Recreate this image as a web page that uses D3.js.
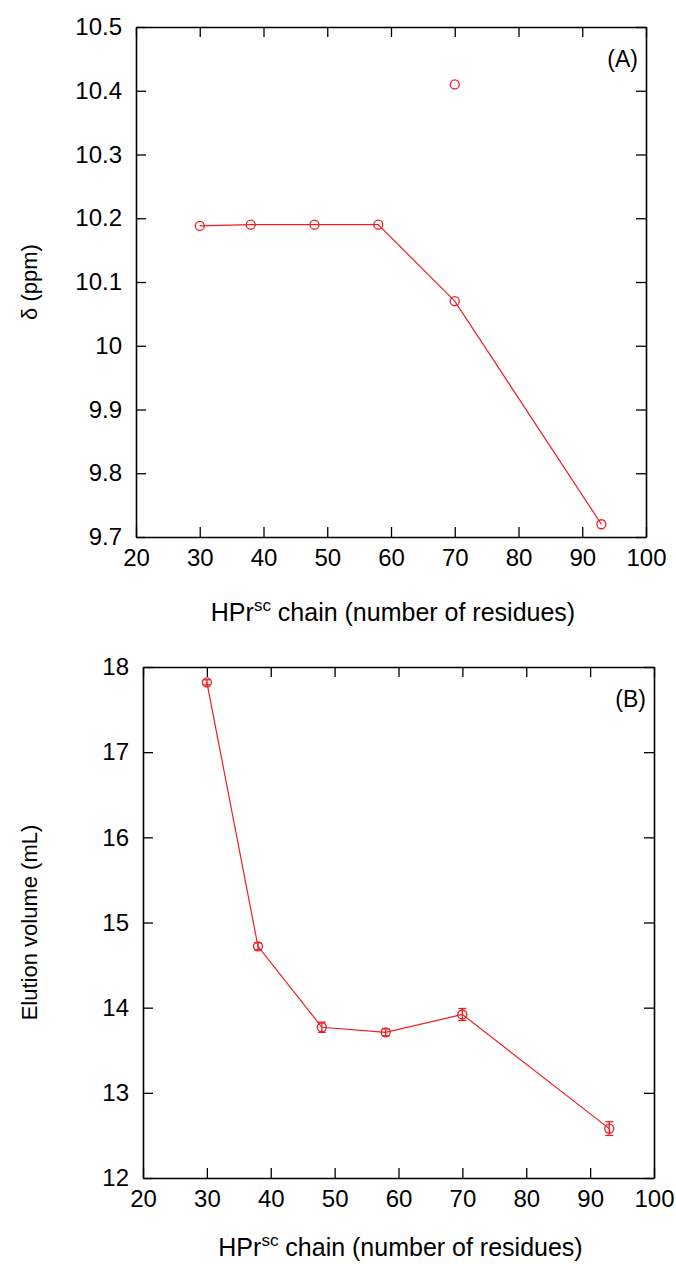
<!DOCTYPE html>
<html>
<head>
<meta charset="utf-8">
<script src="https://cdn.jsdelivr.net/npm/d3@7"></script>
<style>
  body { margin: 0; background: #fff; }
  svg text { font-family: "Liberation Sans", Arial, sans-serif; fill: #000; }
</style>
</head>
<body>
<svg id="chart" width="676" height="1264"></svg>
<script>
// panel A: chemical shift vs chain length
var residuesA = [30, 38, 48, 58, 70, 93];
var shiftA = [10.188, 10.19, 10.19, 10.19, 10.07, 9.72];
var outlierResidues = [70];
var outlierShift = [10.41];
var yTicksA = [9.7, 9.8, 9.9, 10, 10.1, 10.2, 10.3, 10.4, 10.5];
var yTickLabelsA = ["9.7", "9.8", "9.9", "10", "10.1", "10.2", "10.3", "10.4", "10.5"];

// panel B: elution volume vs chain length
var residuesB = [30, 38, 48, 58, 70, 93];
var elutionB = [17.82, 14.72, 13.77, 13.71, 13.92, 12.58];
var elutionErr = [0.03, 0.04, 0.06, 0.04, 0.07, 0.08];
var yTicksB = [12, 13, 14, 15, 16, 17, 18];

var xTicks = [20, 30, 40, 50, 60, 70, 80, 90, 100];
var red = "#f01c24";

var svg = d3.select("#chart");

function makePanel(opt) {
  var xScale = d3.scaleLinear().domain([20, 100]).range([opt.left, opt.right]);
  var yScale = d3.scaleLinear().domain(opt.yDomain).range([opt.bottom, opt.top]);
  var g = svg.append("g").classed("panel", true);

  // mirrored axes, ticks pointing inward
  g.append("g")
   .attr("transform", "translate(0," + opt.bottom + ")")
   .call(d3.axisBottom(xScale).tickValues(xTicks).tickFormat(d3.format("d"))
         .tickSizeInner(-10).tickSizeOuter(0).tickPadding(12));
  g.append("g")
   .attr("transform", "translate(0," + opt.top + ")")
   .call(d3.axisTop(xScale).tickValues(xTicks).tickFormat("")
         .tickSizeInner(-10).tickSizeOuter(0));
  g.append("g")
   .attr("transform", "translate(" + opt.left + ",0)")
   .call(d3.axisLeft(yScale).tickValues(opt.yTicks)
         .tickFormat(function(d, i){ return opt.yLabels[i]; })
         .tickSizeInner(-10).tickSizeOuter(0).tickPadding(14));
  g.append("g")
   .attr("transform", "translate(" + opt.right + ",0)")
   .call(d3.axisRight(yScale).tickValues(opt.yTicks).tickFormat("")
         .tickSizeInner(-10).tickSizeOuter(0));

  g.selectAll(".domain").attr("stroke", "#000").attr("stroke-width", 1.6);
  g.selectAll(".tick line").attr("stroke", "#000").attr("stroke-width", 1.3);
  g.selectAll(".tick text").style("font-size", "24px");

  g.append("text")
   .attr("x", opt.right - 8)
   .attr("y", opt.top + 40)
   .attr("text-anchor", "end")
   .style("font-size", "23px")
   .text(opt.tag);

  g.append("text")
   .attr("x", (opt.left + opt.right) / 2 + 2)
   .attr("y", opt.bottom + opt.xTitleDy)
   .attr("text-anchor", "middle")
   .style("font-size", "25px")
   .call(function(t){
     t.append("tspan").text("HPr");
     t.append("tspan").attr("dy", -10).style("font-size", "17px").text("sc");
     t.append("tspan").attr("dy", 10).text(" chain (number of residues)");
   });

  g.append("text")
   .attr("transform", "translate(" + opt.yLabelX + "," + ((opt.top + opt.bottom) / 2) + ") rotate(-90)")
   .attr("text-anchor", "middle")
   .style("font-size", "22px")
   .text(opt.yTitle);

  return { g: g, x: xScale, y: yScale };
}

// ---- panel A
var pA = makePanel({
  left: 136, right: 646, top: 27, bottom: 537,
  yDomain: [9.7, 10.5], yTicks: yTicksA, yLabels: yTickLabelsA,
  tag: "(A)", yTitle: "δ (ppm)", yLabelX: 37, xTitleDy: 84
});
var lineA = d3.line()
  .x(function(d, i){ return pA.x(residuesA[i]); })
  .y(function(d){ return pA.y(d); });
pA.g.append("path")
  .datum(shiftA)
  .attr("d", lineA)
  .attr("fill", "none")
  .attr("stroke", red)
  .attr("stroke-width", 1.2);
pA.g.selectAll("circle.main")
  .data(shiftA)
  .enter()
  .append("circle")
  .classed("main", true)
  .attr("cx", function(d, i){ return pA.x(residuesA[i]); })
  .attr("cy", function(d){ return pA.y(d); })
  .attr("r", 4.5)
  .attr("fill", "none")
  .attr("stroke", red)
  .attr("stroke-width", 1.3);
pA.g.selectAll("circle.outlier")
  .data(outlierShift)
  .enter()
  .append("circle")
  .classed("outlier", true)
  .attr("cx", function(d, i){ return pA.x(outlierResidues[i]); })
  .attr("cy", function(d){ return pA.y(d); })
  .attr("r", 4.5)
  .attr("fill", "none")
  .attr("stroke", red)
  .attr("stroke-width", 1.3);

// ---- panel B
var pB = makePanel({
  left: 143, right: 654, top: 667, bottom: 1178,
  yDomain: [12, 18], yTicks: yTicksB, yLabels: yTicksB.map(String),
  tag: "(B)", yTitle: "Elution volume (mL)", yLabelX: 37, xTitleDy: 78
});
var lineB = d3.line()
  .x(function(d, i){ return pB.x(residuesB[i]); })
  .y(function(d){ return pB.y(d); });
pB.g.append("path")
  .datum(elutionB)
  .attr("d", lineB)
  .attr("fill", "none")
  .attr("stroke", red)
  .attr("stroke-width", 1.2);

var errs = pB.g.selectAll("g.err")
  .data(elutionB)
  .enter()
  .append("g")
  .classed("err", true)
  .attr("stroke", red)
  .attr("stroke-width", 1.3);
errs.append("line")
  .attr("x1", function(d, i){ return pB.x(residuesB[i]); })
  .attr("x2", function(d, i){ return pB.x(residuesB[i]); })
  .attr("y1", function(d, i){ return pB.y(d - elutionErr[i]); })
  .attr("y2", function(d, i){ return pB.y(d + elutionErr[i]); });
errs.append("line")
  .attr("x1", function(d, i){ return pB.x(residuesB[i]) - 4; })
  .attr("x2", function(d, i){ return pB.x(residuesB[i]) + 4; })
  .attr("y1", function(d, i){ return pB.y(d - elutionErr[i]); })
  .attr("y2", function(d, i){ return pB.y(d - elutionErr[i]); });
errs.append("line")
  .attr("x1", function(d, i){ return pB.x(residuesB[i]) - 4; })
  .attr("x2", function(d, i){ return pB.x(residuesB[i]) + 4; })
  .attr("y1", function(d, i){ return pB.y(d + elutionErr[i]); })
  .attr("y2", function(d, i){ return pB.y(d + elutionErr[i]); });
errs.append("circle")
  .attr("cx", function(d, i){ return pB.x(residuesB[i]); })
  .attr("cy", function(d){ return pB.y(d); })
  .attr("r", 4.5)
  .attr("fill", "none");
</script>
</body>
</html>
